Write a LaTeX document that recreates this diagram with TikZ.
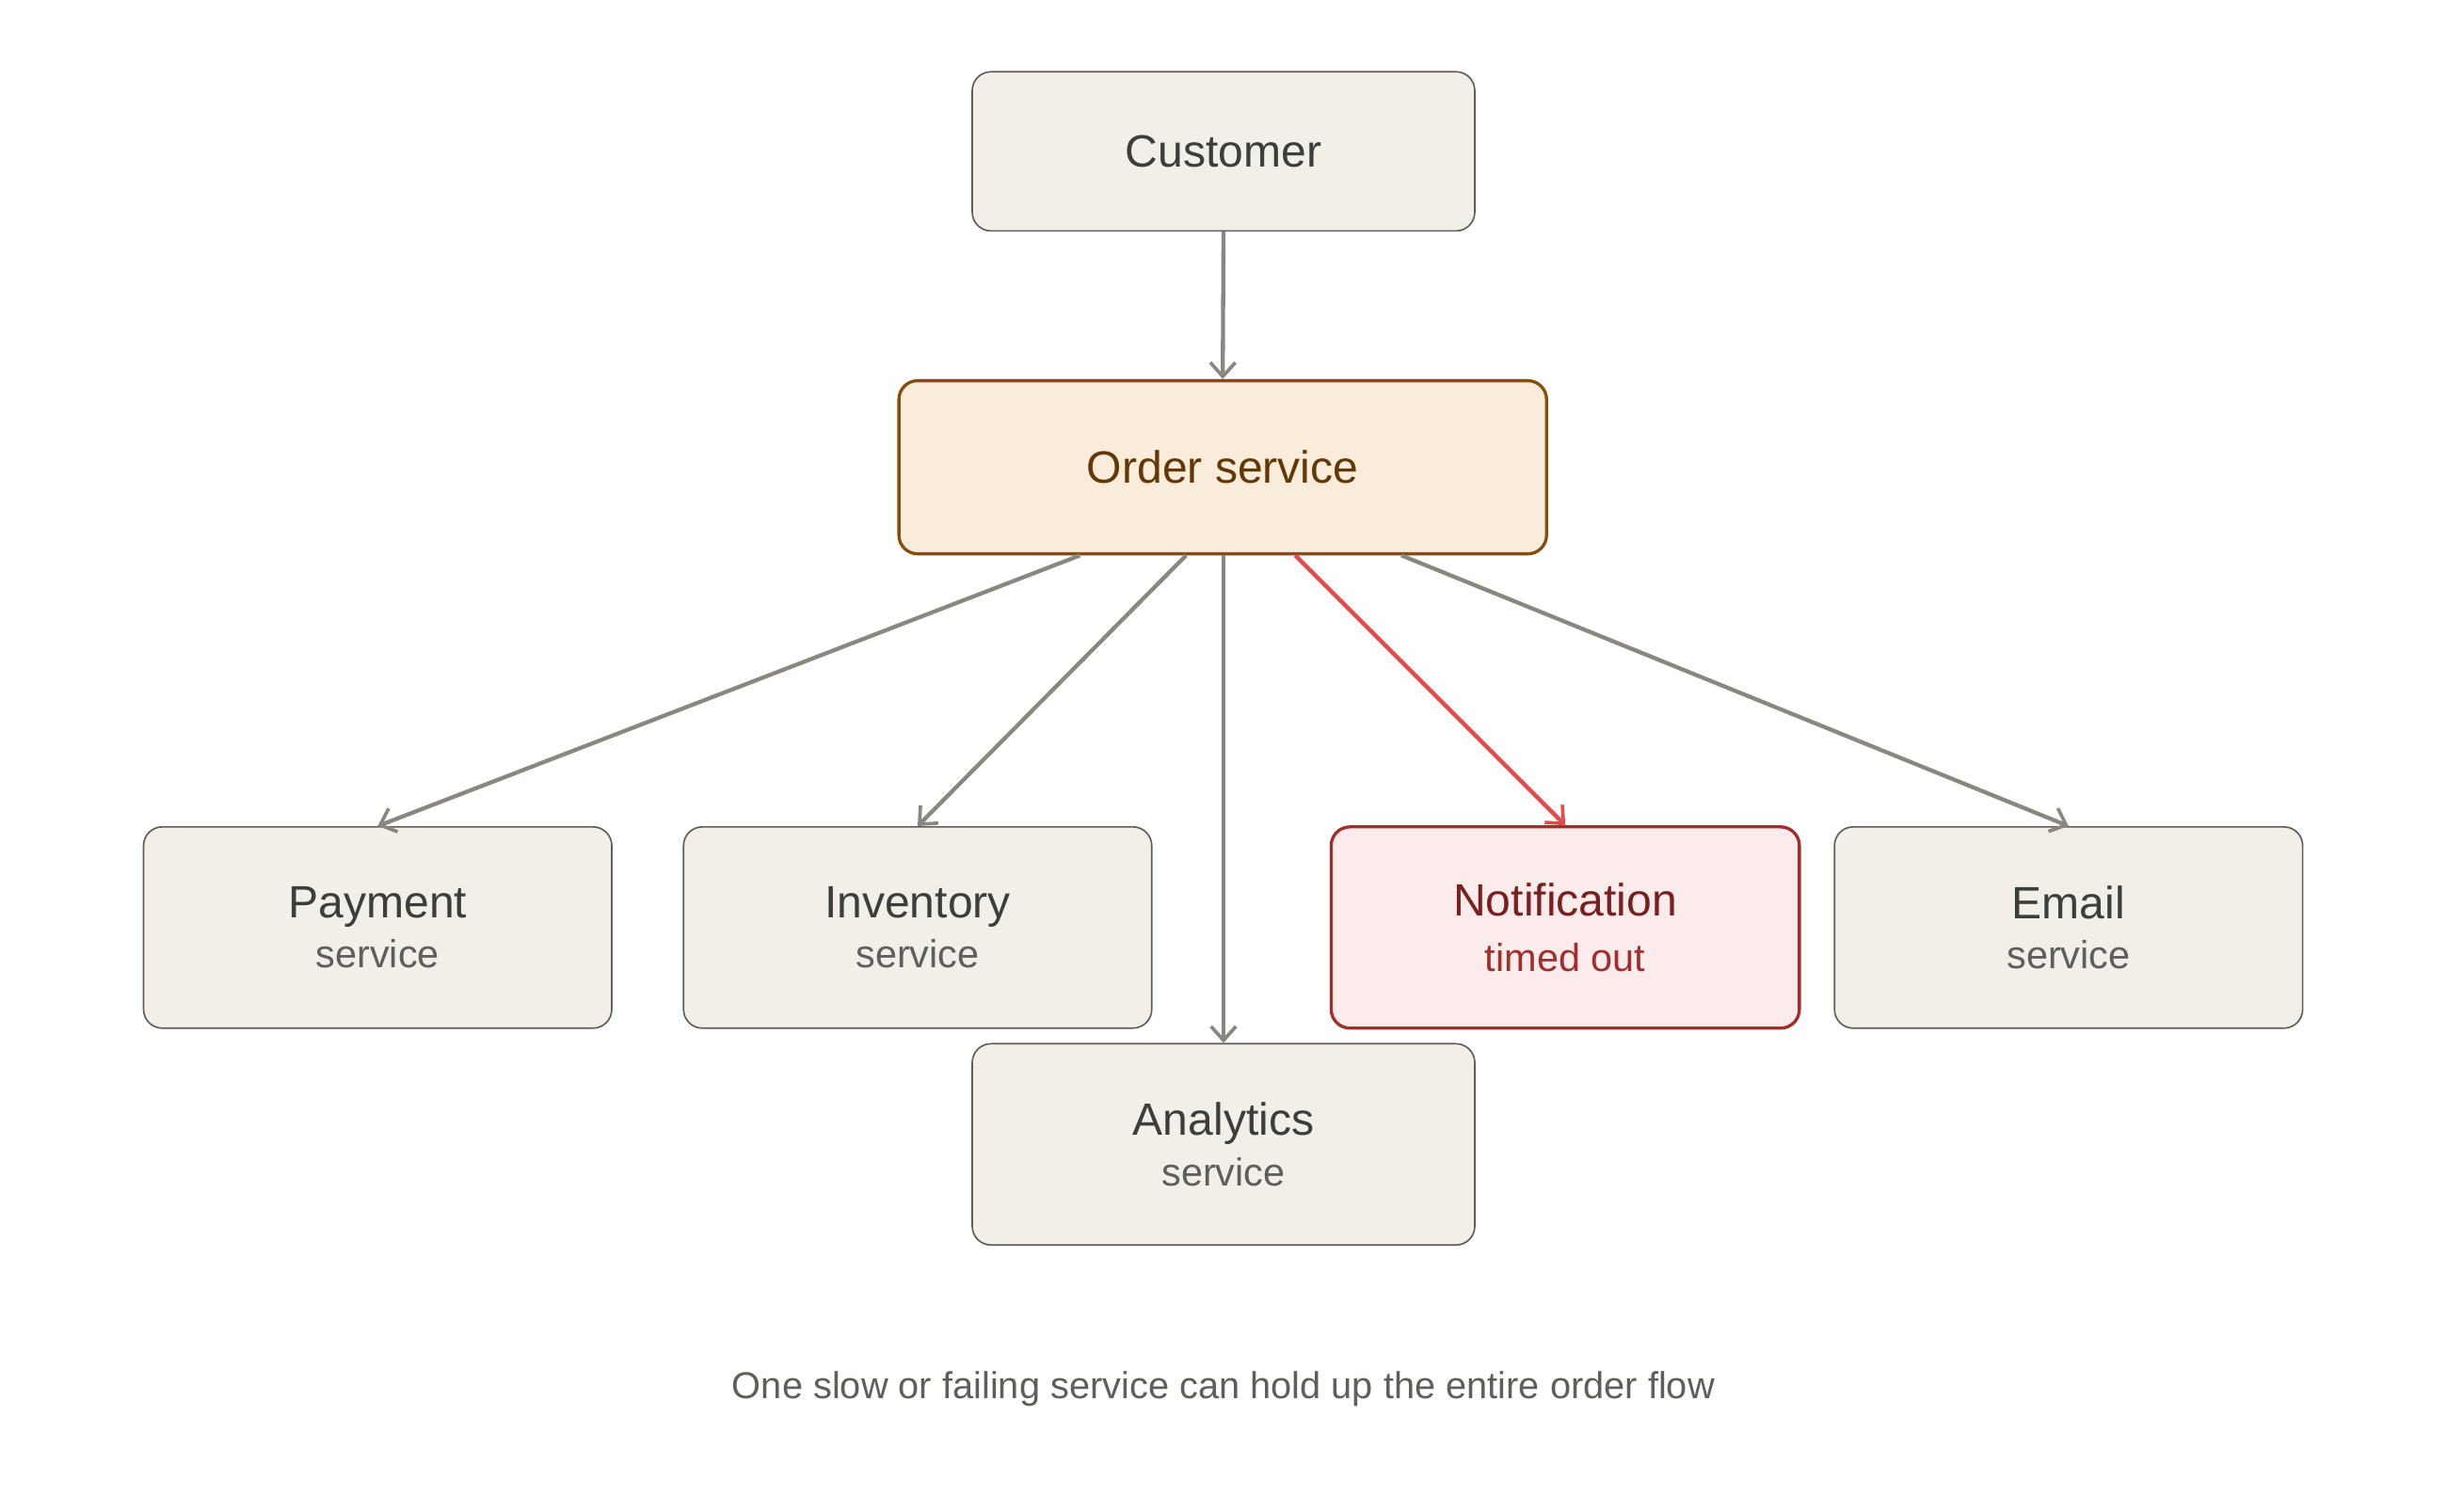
\documentclass[tikz,border=0pt]{standalone}
\usepackage{fontspec}
\setmainfont{Liberation Sans}
\usetikzlibrary{arrows.meta}
\definecolor{boxfill}{HTML}{F1EFE8}
\definecolor{boxdraw}{HTML}{5F5E5A}
\definecolor{ordfill}{HTML}{FAECDA}
\definecolor{orddraw}{HTML}{854F0B}
\definecolor{ordtext}{HTML}{633806}
\definecolor{notfill}{HTML}{FCEBEB}
\definecolor{notdraw}{HTML}{A32D2D}
\definecolor{nottext}{HTML}{791F1F}
\definecolor{notsub}{HTML}{A32D2D}
\definecolor{maintext}{HTML}{3D3D3A}
\definecolor{subtext}{HTML}{5F5E5A}
\definecolor{arr}{HTML}{888780}
\definecolor{redarr}{HTML}{E24B4A}
\begin{document}
\begin{tikzpicture}[x=1pt,y=-1pt,
  box/.style={draw=boxdraw,fill=boxfill,line width=1pt,rounded corners=12pt,minimum width=300pt,minimum height=129pt,align=center,text=maintext,font=\fontsize{29}{34}\selectfont},
  sub/.style={font=\fontsize{25}{30}\selectfont,text=subtext},
  con/.style={draw=arr,line width=2.6pt,-{Straight Barb[length=9pt,width=16pt,line width=2.2pt]}}]
\useasboundingbox (0,0) rectangle (1568,968.6);
\node[box,minimum width=322pt,minimum height=102pt] (cust) at (784,97) {Customer};
\node[box,draw=orddraw,fill=ordfill,text=ordtext,line width=2pt,minimum width=415pt,minimum height=111pt] (ord) at (783.5,299.5) {Order service};
\node[box] (pay) at (242,594.5) {Payment\\[-2pt]{\fontsize{25}{30}\selectfont\color{subtext}service}};
\node[box] (inv) at (588,594.5) {Inventory\\[-2pt]{\fontsize{25}{30}\selectfont\color{subtext}service}};
\node[box,draw=notdraw,fill=notfill,text=nottext,line width=2pt] (not) at (1003,594.5) {Notification\\[2pt]{\fontsize{25}{30}\selectfont\color{notsub}timed out}};
\node[box] (em) at (1325.5,594.5) {Email\\[-2pt]{\fontsize{25}{30}\selectfont\color{subtext}service}};
\node[box,minimum width=322pt] (ana) at (784,733.5) {Analytics\\[-2pt]{\fontsize{25}{30}\selectfont\color{subtext}service}};
\node[font=\fontsize{24}{28}\selectfont,text=subtext] (cap) at (784,890) {One slow or failing service can hold up the entire order flow};
\draw[con] (cust.south) -- (ord.north);
\draw[con] ([xshift=-91.5pt]ord.south) -- (pay.north);
\draw[con] ([xshift=-23.5pt]ord.south) -- (inv.north);
\draw[con] ([xshift=0.5pt]ord.south) -- (ana.north);
\draw[con,draw=redarr] ([xshift=46.5pt]ord.south) -- (not.north);
\draw[con] ([xshift=114.5pt]ord.south) -- (em.north);
\end{tikzpicture}
\end{document}
